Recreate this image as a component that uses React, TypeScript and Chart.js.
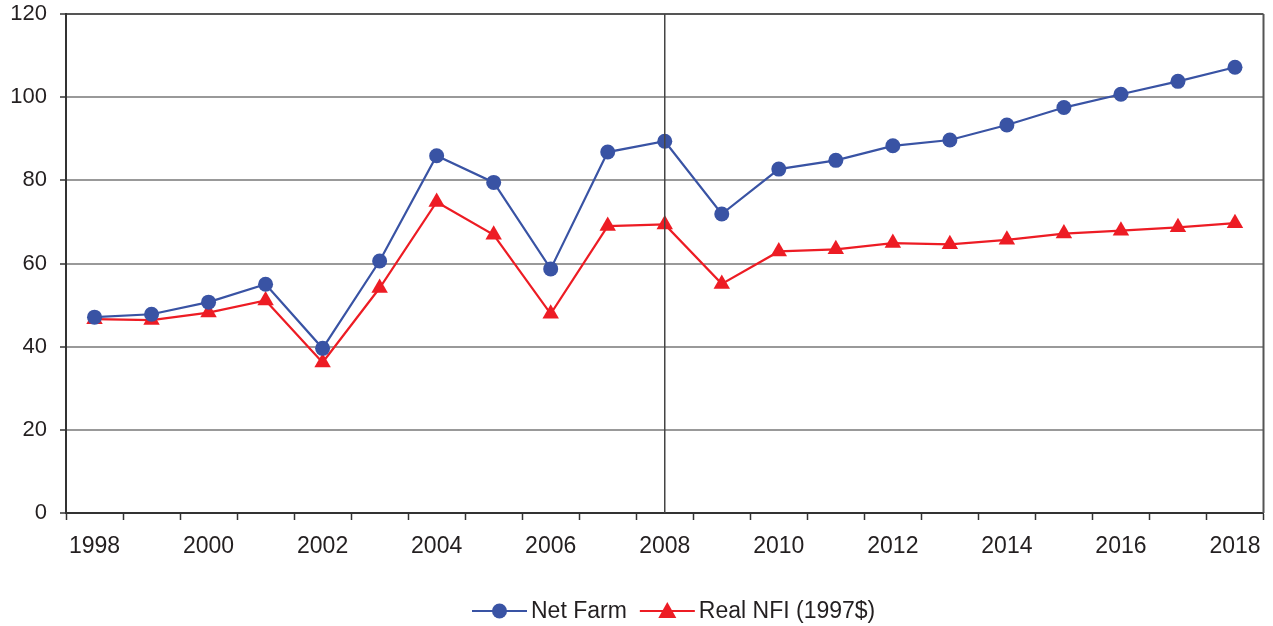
import React, { useEffect, useRef } from "react";
import { Chart, registerables } from "chart.js";

Chart.register(...registerables);

const years = ["1998","1999","2000","2001","2002","2003","2004","2005","2006","2007","2008","2009","2010","2011","2012","2013","2014","2015","2016","2017","2018"];
const netFarm = [47.1, 47.8, 50.7, 55.0, 39.6, 60.6, 85.9, 79.5, 58.7, 86.8, 89.4, 71.9, 82.7, 84.8, 88.3, 89.7, 93.3, 97.5, 100.7, 103.8, 107.2];
const realNFI = [46.6, 46.4, 48.2, 51.1, 36.2, 54.1, 74.8, 66.9, 47.9, 69.0, 69.4, 55.1, 62.9, 63.4, 64.9, 64.6, 65.7, 67.2, 67.9, 68.7, 69.7];
const yTicks = [0, 20, 40, 60, 80, 100, 120];
const markerYear = "2008";
const seriesNames = ["Net Farm", "Real NFI (1997$)"];

const BLUE = "#3953a4";
const RED = "#ed1c24";
const TEXT = "#231f20";
const FONT = "'Liberation Sans', Arial, sans-serif";

const overlay = {
  id: "overlay",
  afterDatasetsDraw(chart: any) {
    const { ctx, chartArea, scales } = chart;
    ctx.save();
    const x = scales.x.getPixelForValue(years.indexOf(markerYear));
    ctx.strokeStyle = "#444";
    ctx.lineWidth = 1.5;
    ctx.beginPath();
    ctx.moveTo(x, chartArea.top);
    ctx.lineTo(x, chartArea.bottom);
    ctx.stroke();
    ctx.strokeStyle = "#555";
    ctx.lineWidth = 2;
    ctx.beginPath();
    ctx.moveTo(chartArea.right, chartArea.top);
    ctx.lineTo(chartArea.right, chartArea.bottom);
    ctx.stroke();
    ctx.restore();
  },
  afterDraw(chart: any) {
    const { ctx, chartArea } = chart;
    ctx.save();
    ctx.font = `23px ${FONT}`;
    ctx.textBaseline = "middle";
    ctx.textAlign = "left";
    const lineLen = 55;
    const gapText = 4;
    const gapItem = 13;
    const widths = seriesNames.map((n) => ctx.measureText(n).width);
    const total = widths.reduce((a, w) => a + lineLen + gapText + w, 0) + gapItem;
    let x = 472;
    const y = 611;
    const styles = [
      { color: BLUE, shape: "circle" },
      { color: RED, shape: "triangle" },
    ];
    seriesNames.forEach((name, i) => {
      const s = styles[i];
      ctx.strokeStyle = s.color;
      ctx.fillStyle = s.color;
      ctx.lineWidth = 2;
      ctx.beginPath();
      ctx.moveTo(x, y);
      ctx.lineTo(x + lineLen, y);
      ctx.stroke();
      const cx = x + lineLen / 2;
      ctx.beginPath();
      if (s.shape === "circle") {
        ctx.arc(cx, y, 7.5, 0, Math.PI * 2);
      } else {
        ctx.moveTo(cx, y - 9);
        ctx.lineTo(cx + 9, y + 7);
        ctx.lineTo(cx - 9, y + 7);
        ctx.closePath();
      }
      ctx.fill();
      ctx.fillStyle = TEXT;
      ctx.fillText(name, x + lineLen + gapText, y + 1);
      x += lineLen + gapText + widths[i] + gapItem;
    });
    void total;
    ctx.restore();
  },
};

export default function App() {
  const ref = useRef<HTMLCanvasElement>(null);
  useEffect(() => {
    const chart = new Chart(ref.current!, {
      type: "line",
      data: {
        labels: years,
        datasets: [
          {
            label: seriesNames[0],
            data: netFarm,
            borderColor: BLUE,
            backgroundColor: BLUE,
            borderWidth: 2.2,
            pointStyle: "circle",
            pointRadius: 7.5,
            pointBorderWidth: 0,
            tension: 0,
          },
          {
            label: seriesNames[1],
            data: realNFI,
            borderColor: RED,
            backgroundColor: RED,
            borderWidth: 2.2,
            pointStyle: "triangle",
            pointRadius: 9.5,
            pointBorderWidth: 0,
            tension: 0,
          },
        ],
      },
      options: {
        responsive: false,
        animation: false,
        layout: { padding: { left: 0, right: 0, top: 14, bottom: 63 } },
        plugins: {
          tooltip: { enabled: false },
          legend: { display: false },
        },
        scales: {
          x: {
            offset: true,
            grid: {
              offset: true,
              drawOnChartArea: false,
              drawTicks: true,
              tickLength: 7,
              tickColor: "#333",
              tickWidth: 1.5,
            },
            border: { display: true, color: "#333", width: 2 },
            ticks: {
              autoSkip: false,
              maxRotation: 0,
              padding: 13,
              color: TEXT,
              font: { family: FONT, size: 23 },
              callback: (_v: any, i: number) => (Number(years[i]) % 2 === 0 ? years[i] : ""),
            },
            afterFit: (s: any) => {
              s.height = 50;
              s.paddingLeft = 0;
              s.paddingRight = 7;
            },
          },
          y: {
            min: 0,
            max: 120,
            afterBuildTicks: (s: any) => {
              s.ticks = yTicks.map((v) => ({ value: v }));
            },
            grid: {
              color: (c: any) => (c.tick && c.tick.value === 120 ? "#555" : "#999"),
              lineWidth: 2,
              tickLength: 6,
              tickColor: "#333",
              tickWidth: 1.5,
            },
            border: { display: true, color: "#333", width: 2 },
            ticks: {
              padding: 13,
              color: TEXT,
              font: { family: FONT, size: 22 },
            },
            afterFit: (s: any) => {
              s.width = 66;
              s.paddingTop = 0;
              s.paddingBottom = 0;
            },
          },
        },
      },
      plugins: [overlay],
    });
    return () => chart.destroy();
  }, []);
  return (
    <div style={{ position: "fixed", left: 0, top: 0, width: 1273, height: 626, background: "#fff" }}>
      <canvas ref={ref} width={1273} height={626} style={{ display: "block" }} />
    </div>
  );
}
